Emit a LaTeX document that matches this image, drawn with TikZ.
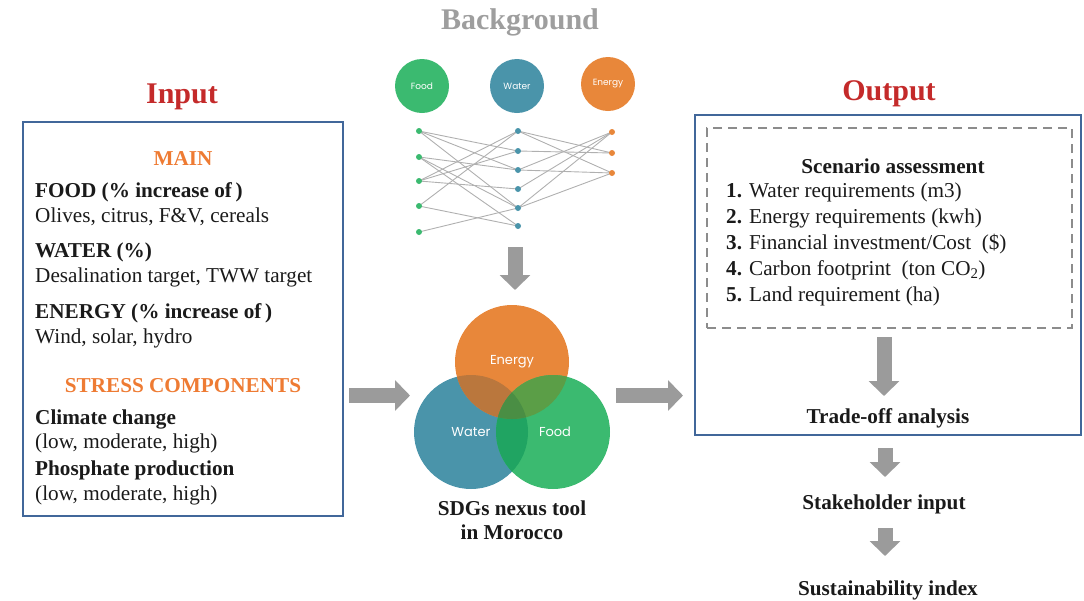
\documentclass[tikz,border=0pt]{standalone}
\usepackage{fontspec}
\setmainfont{Liberation Serif}
\newfontfamily\gothic{Poppins}
\usetikzlibrary{arrows.meta}
\definecolor{boxblue}{HTML}{41679A}
\definecolor{titlered}{HTML}{C42A2A}
\definecolor{headorange}{HTML}{EE7B33}
\definecolor{arrowgray}{HTML}{9B9B9B}
\definecolor{bggray}{HTML}{9E9E9E}
\definecolor{dashgray}{HTML}{8C8C8C}
\definecolor{netgray}{HTML}{B0B0B0}
\definecolor{cfood}{HTML}{3BBA70}
\definecolor{cwater}{HTML}{4A94AA}
\definecolor{cenergy}{HTML}{E8873A}
\definecolor{cwe}{HTML}{BA773D}
\definecolor{cef}{HTML}{5B9E47}
\definecolor{cwf}{HTML}{20A462}
\definecolor{cwef}{HTML}{4A8E44}
\definecolor{txt}{HTML}{1A1A1A}
\begin{document}
\begin{tikzpicture}[x=1pt,y=-1pt,
  titletext/.style={font=\fontsize{30}{32}\selectfont\bfseries, text=titlered, anchor=base, inner sep=0},
  bgtitle/.style={font=\fontsize{30}{32}\selectfont\bfseries, text=bggray, anchor=base, inner sep=0},
  body/.style={font=\fontsize{21.2}{25}\selectfont, text=txt, anchor=base west, inner sep=0},
  bodyb/.style={body, font=\fontsize{21.2}{25}\selectfont\bfseries},
  head/.style={font=\fontsize{21.2}{25}\selectfont\bfseries, text=headorange, anchor=base, inner sep=0},
  ctext/.style={font=\fontsize{21.2}{25}\selectfont\bfseries, text=txt, anchor=base, inner sep=0},
  bluebox/.style={draw=boxblue, line width=2pt},
  dashbox/.style={draw=dashgray, line width=1.6pt, dash pattern=on 9pt off 6pt},
  blockarrow/.style={draw=arrowgray, line width=15pt, -{Triangle[length=15pt,width=30pt]}},
  bigcircle/.style={circle, minimum size=114pt, inner sep=0, text=white, font=\gothic\fontsize{13}{15}\selectfont},
  smallcircle/.style={circle, minimum size=54pt, inner sep=0, text=white, font=\gothic\fontsize{9}{11}\selectfont},
  dotf/.style={circle, fill=cfood, inner sep=0, minimum size=6pt},
  dotw/.style={circle, fill=cwater, inner sep=0, minimum size=6pt},
  dote/.style={circle, fill=cenergy, inner sep=0, minimum size=6pt},
  net/.style={draw=netgray, line width=0.9pt}
]
\useasboundingbox (0,0) rectangle (1084,600);

% ---------- Titles
\node[bgtitle] (tbg) at (520,29) {Background};
\node[titletext] (tin) at (182,103) {Input};
\node[titletext] (tout) at (889,100) {Output};

% ---------- Input box
\node[bluebox, minimum width=320pt, minimum height=394pt, inner sep=0] (inbox) at (183,319) {};
\node[head] (main) at (183,165) {MAIN};
\node[bodyb] (food) at (35,197) {FOOD (\% increase of\,)};
\node[body] (foodl) at (35,222) {Olives, citrus, F\&V, cereals};
\node[bodyb] (water) at (35,257) {WATER (\%)};
\node[body] (waterl) at (35,282) {Desalination target, TWW target};
\node[bodyb] (energy) at (35,318) {ENERGY (\% increase of\,)};
\node[body] (energyl) at (35,343) {Wind, solar, hydro};
\node[head] (stress) at (183,392) {STRESS COMPONENTS};
\node[bodyb] (climate) at (35,424) {Climate change};
\node[body] (climatel) at (35,448) {(low, moderate, high)};
\node[bodyb] (phos) at (35,475) {Phosphate production};
\node[body] (phosl) at (35,500) {(low, moderate, high)};

% ---------- Background circles
\node[smallcircle, fill=cfood] (bfood) at (422,86) {Food};
\node[smallcircle, fill=cwater] (bwater) at (517,86) {Water};
\node[smallcircle, fill=cenergy] (benergy) at (608,84) {Energy};

% network edges first, dots on top
\coordinate (cf1) at (419,131);
\coordinate (cf2) at (419,157);
\coordinate (cf3) at (419,181);
\coordinate (cf4) at (419,206);
\coordinate (cf5) at (419,232);
\coordinate (cw1) at (518,131);
\coordinate (cw2) at (518,151);
\coordinate (cw3) at (518,170);
\coordinate (cw4) at (518,189);
\coordinate (cw5) at (518,208);
\coordinate (cw6) at (518,226);
\coordinate (ce1) at (612,132);
\coordinate (ce2) at (612,153);
\coordinate (ce3) at (612,173);
\draw[net] (cf1) -- (cw2);
\draw[net] (cf1) -- (cw3);
\draw[net] (cf1) -- (cw5);
\draw[net] (cf2) -- (cw3);
\draw[net] (cf2) -- (cw5);
\draw[net] (cf2) -- (cw6);
\draw[net] (cf3) -- (cw1);
\draw[net] (cf3) -- (cw2);
\draw[net] (cf3) -- (cw4);
\draw[net] (cf4) -- (cw1);
\draw[net] (cf4) -- (cw6);
\draw[net] (cf5) -- (cw5);
\draw[net] (cw1) -- (ce2);
\draw[net] (cw1) -- (ce3);
\draw[net] (cw2) -- (ce2);
\draw[net] (cw3) -- (ce1);
\draw[net] (cw3) -- (ce3);
\draw[net] (cw4) -- (ce1);
\draw[net] (cw5) -- (ce1);
\draw[net] (cw5) -- (ce3);
\node[dotf] (f1) at (cf1) {};
\node[dotf] (f2) at (cf2) {};
\node[dotf] (f3) at (cf3) {};
\node[dotf] (f4) at (cf4) {};
\node[dotf] (f5) at (cf5) {};
\node[dotw] (w1) at (cw1) {};
\node[dotw] (w2) at (cw2) {};
\node[dotw] (w3) at (cw3) {};
\node[dotw] (w4) at (cw4) {};
\node[dotw] (w5) at (cw5) {};
\node[dotw] (w6) at (cw6) {};
\node[dote] (e1) at (ce1) {};
\node[dote] (e2) at (ce2) {};
\node[dote] (e3) at (ce3) {};

% ---------- Venn
\fill[cwater] (471,432) circle[radius=57pt];
\fill[cenergy] (512,362) circle[radius=57pt];
\fill[cfood] (553,432) circle[radius=57pt];
\begin{scope}
  \clip (471,432) circle[radius=57pt];
  \fill[cwe] (512,362) circle[radius=57pt];
  \fill[cwf] (553,432) circle[radius=57pt];
\end{scope}
\begin{scope}
  \clip (512,362) circle[radius=57pt];
  \fill[cef] (553,432) circle[radius=57pt];
  \clip (471,432) circle[radius=57pt];
  \fill[cwef] (553,432) circle[radius=57pt];
\end{scope}
\node[bigcircle] (vwater) at (471,432) {Water};
\node[bigcircle] (venergy) at (512,362) {Energy};
\node[bigcircle] (vfood) at (555,432) {Food};
\node[ctext] (sdg1) at (512,515) {SDGs nexus tool};
\node[ctext] (sdg2) at (512,539) {in Morocco};

% ---------- Output box
\node[bluebox, minimum width=386pt, minimum height=320pt, inner sep=0] (outbox) at (888,275) {};
\node[dashbox, minimum width=365pt, minimum height=200pt, inner sep=0] (scen) at (889.5,228) {};
\node[ctext] (scent) at (893,173) {Scenario assessment};
\node[body] (s1) at (726,197) {\textbf{1.} Water requirements (m3)};
\node[body] (s2) at (726,223) {\textbf{2.} Energy requirements (kwh)};
\node[body] (s3) at (726,249) {\textbf{3.} Financial investment/Cost\ \ (\$)};
\node[body] (s4) at (726,275) {\textbf{4.} Carbon footprint\ \ (ton CO\textsubscript{2})};
\node[body] (s5) at (726,301) {\textbf{5.} Land requirement (ha)};
\node[ctext] (trade) at (888,423) {Trade-off analysis};
\node[ctext] (stake) at (884,509) {Stakeholder input};
\node[ctext] (sust) at (888,595) {Sustainability index};

% ---------- Block arrows
\coordinate (a1s) at (349,395.5);
\coordinate (a1e) at (410,395.5);
\coordinate (a2s) at (616,395.5);
\coordinate (a2e) at (683,395.5);
\coordinate (a3s) at (515,247);
\coordinate (a3e) at (515,290);
\coordinate (a4s) at (884,337);
\coordinate (a4e) at (884,396);
\coordinate (a5s) at (885,448);
\coordinate (a5e) at (885,477);
\coordinate (a6s) at (885,528);
\coordinate (a6e) at (885,556);
\draw[blockarrow] (a1s) -- (a1e);
\draw[blockarrow] (a2s) -- (a2e);
\draw[blockarrow] (a3s) -- (a3e);
\draw[blockarrow] (a4s) -- (a4e);
\draw[blockarrow] (a5s) -- (a5e);
\draw[blockarrow] (a6s) -- (a6e);
\end{tikzpicture}
\end{document}
